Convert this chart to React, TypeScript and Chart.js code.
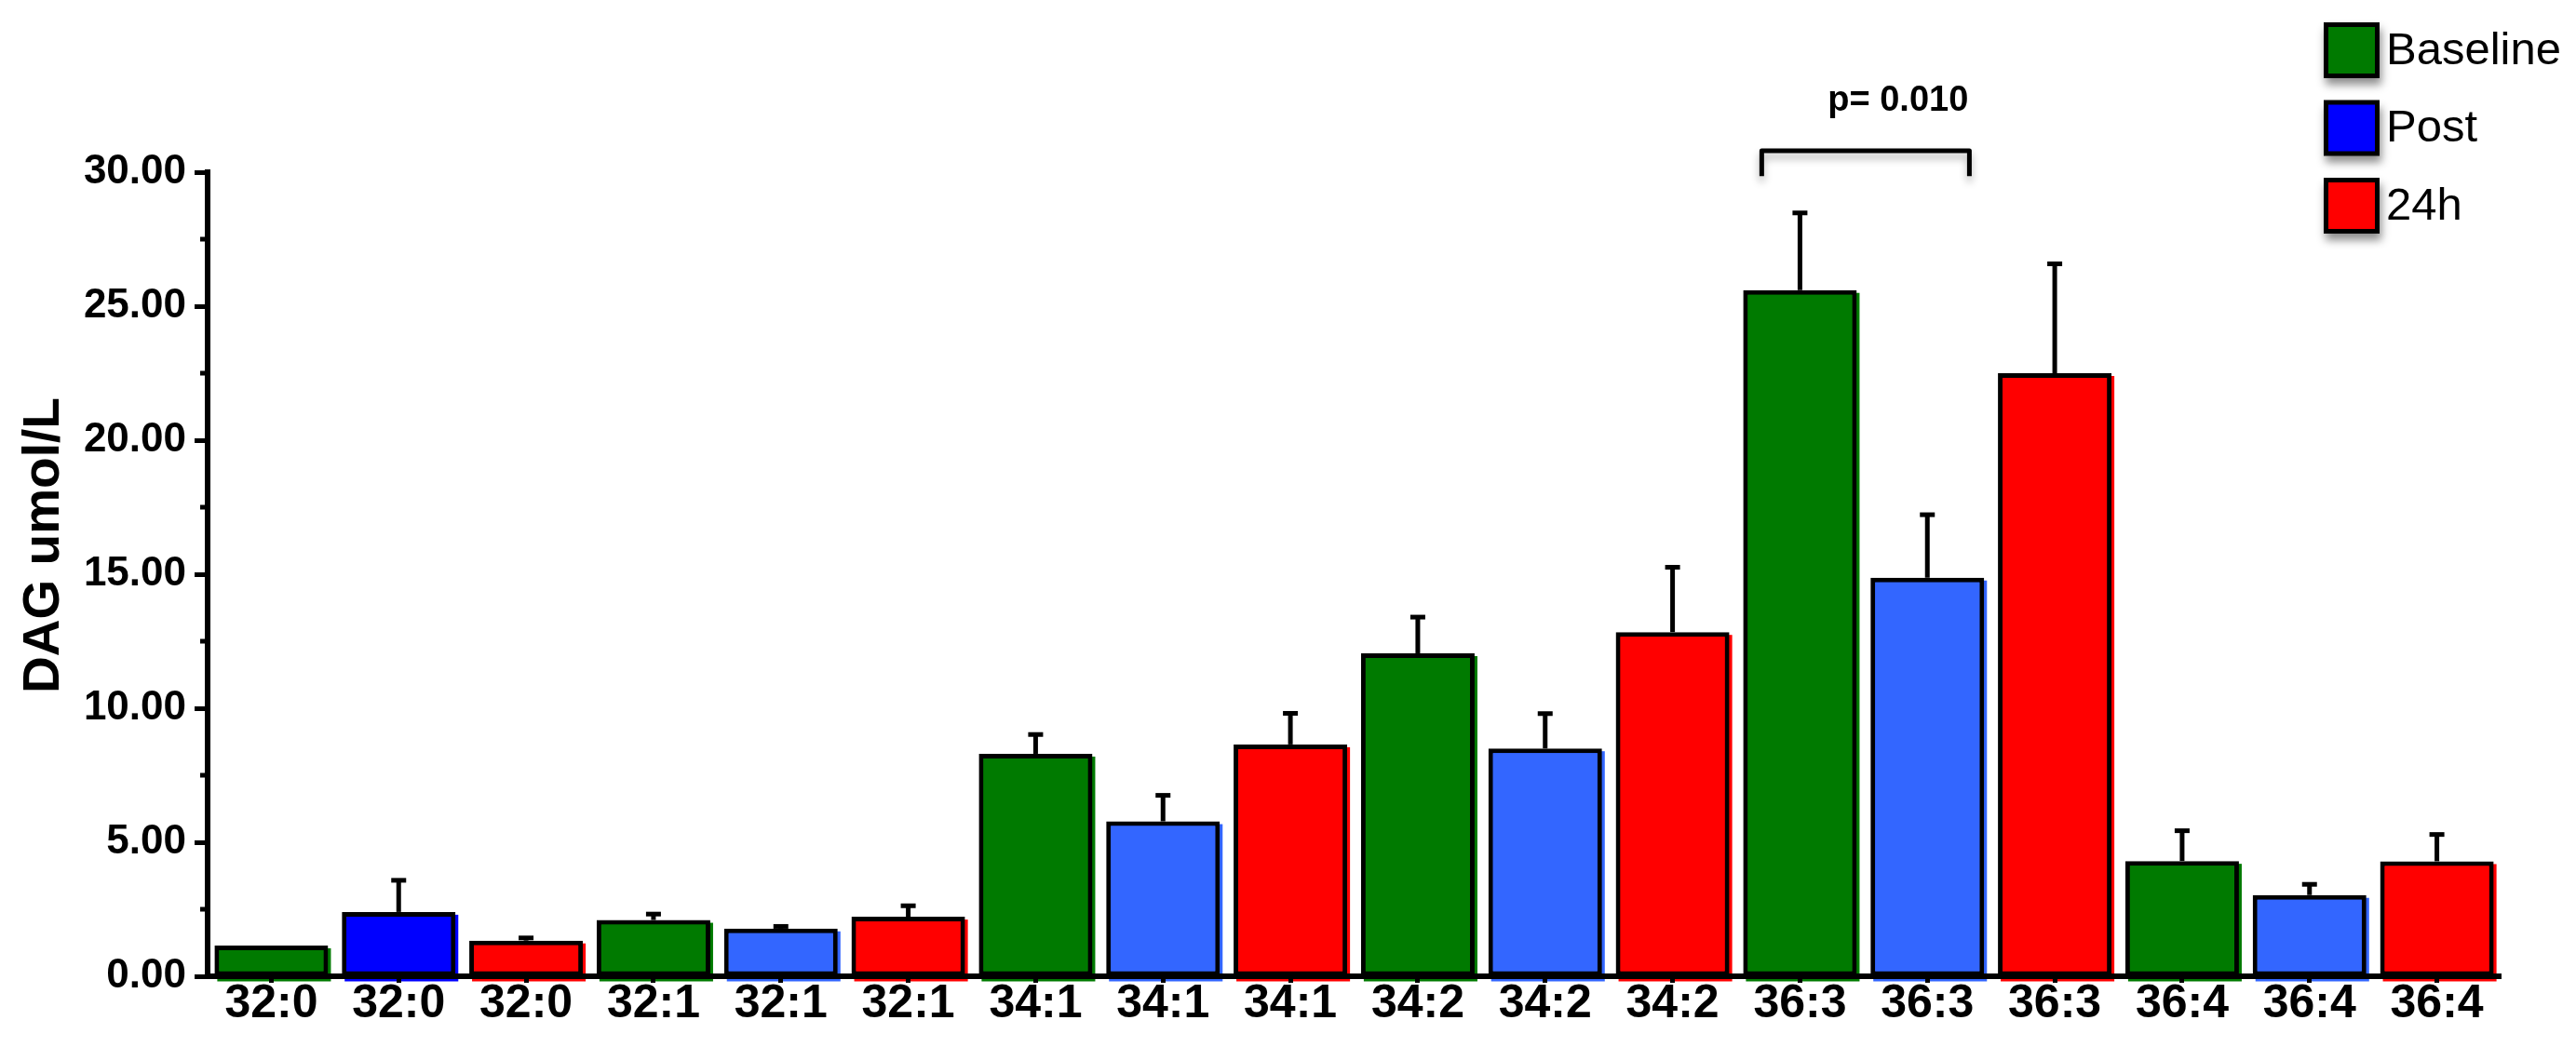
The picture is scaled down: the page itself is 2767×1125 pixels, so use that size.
import React, { useEffect, useRef } from 'react';
import { Chart, registerables } from 'chart.js';

Chart.register(...registerables);

// ---- data ----
const lipids = ['32:0', '32:1', '34:1', '34:2', '36:3', '36:4'];
const seriesNames = ['Baseline', 'Post', '24h'];
const baselineMean = [1.15, 2.1, 8.3, 12.05, 25.6, 4.3];
const baselineSem = [0, 0.22, 0.72, 1.35, 2.88, 1.13];
const postMean = [2.4, 1.78, 5.78, 8.5, 14.87, 3.03];
const postSem = [1.18, 0.08, 0.97, 1.3, 2.35, 0.4];
const h24Mean = [1.33, 2.22, 8.65, 12.84, 22.5, 4.29];
const h24Sem = [0.1, 0.41, 1.16, 2.42, 4.08, 1.0];
const yMin = 0;
const yMax = 30;
const yStep = 5;
const yTitle = 'DAG umol/L';
const pLabel = 'p= 0.010';
const pPair = [12, 13]; // category indices joined by the bracket

// ---- styles ----
const FONT = '"Liberation Sans", Arial, Helvetica, sans-serif';
const GREEN = '#007a00';
const BLUE = '#3366ff';
const PURE_BLUE = '#0000ff';
const RED = '#ff0000';
const seriesColors = [GREEN, PURE_BLUE, RED];

const means = [baselineMean, postMean, h24Mean];
const sems = [baselineSem, postSem, h24Sem];
const categories = lipids.flatMap((l) => [l, l, l]);

function seriesData(s: number, arr: number[]) {
  return categories.map((_, i) => (i % 3 === s ? arr[Math.floor(i / 3)] : null));
}

function barColor(s: number, index: number) {
  if (s === 0) return GREEN;
  if (s === 2) return RED;
  return Math.floor(index / 3) === 0 ? PURE_BLUE : BLUE;
}

const fillOffsetPlugin = {
  id: 'fillOffset',
  beforeDatasetsDraw(chart: any) {
    const ctx = chart.ctx;
    ctx.save();
    chart.data.datasets.forEach((ds: any, di: number) => {
      const meta = chart.getDatasetMeta(di);
      meta.data.forEach((el: any, i: number) => {
        if (ds.data[i] == null) return;
        const { x, y, base, width } = el.getProps(['x', 'y', 'base', 'width'], true);
        ctx.fillStyle = barColor(di, i);
        ctx.fillRect(x - width / 2 + 3, y + 3, width, base - y + 3);
      });
    });
    ctx.restore();
  },
};

const errorBarPlugin = {
  id: 'errorBars',
  afterDatasetsDraw(chart: any) {
    const ctx = chart.ctx;
    const ys = chart.scales.y;
    ctx.save();
    ctx.fillStyle = '#000';
    chart.data.datasets.forEach((ds: any, di: number) => {
      const meta = chart.getDatasetMeta(di);
      meta.data.forEach((el: any, i: number) => {
        const v = ds.data[i];
        const e = ds.errors[i];
        if (v == null || !e) return;
        const { x, y } = el.getProps(['x', 'y'], true);
        const top = ys.getPixelForValue(v + e);
        ctx.fillRect(x - 2.5, top, 5, y - top);
        ctx.fillRect(x - 8, top - 2.5, 16, 5);
      });
    });
    ctx.restore();
  },
};

const decorPlugin = {
  id: 'decor',
  afterDraw(chart: any) {
    const ctx = chart.ctx;
    const xs = chart.scales.x;
    const ys = chart.scales.y;
    const area = chart.chartArea;
    ctx.save();

    // minor ticks on y axis
    ctx.strokeStyle = '#000';
    ctx.lineWidth = 5;
    for (let v = yMin + yStep / 2; v < yMax; v += yStep) {
      const py = ys.getPixelForValue(v);
      ctx.beginPath();
      ctx.moveTo(area.left - 8, py);
      ctx.lineTo(area.left, py);
      ctx.stroke();
    }

    // y title
    ctx.save();
    ctx.translate(48, 586);
    ctx.rotate(-Math.PI / 2);
    ctx.fillStyle = '#000';
    ctx.font = `bold 55px ${FONT}`;
    ctx.textAlign = 'center';
    ctx.textBaseline = 'middle';
    ctx.fillText(yTitle, 0, 0);
    ctx.restore();

    // significance bracket
    const c0 = xs.getPixelForValue(pPair[0]);
    const c1 = xs.getPixelForValue(pPair[1]);
    const w = c1 - c0;
    const bx0 = c0 - 0.3 * w;
    const bx1 = c1 + 0.33 * w;
    const byTop = ys.getPixelForValue(30.8);
    const byBot = ys.getPixelForValue(29.85);
    ctx.save();
    ctx.shadowColor = 'rgba(0,0,0,0.3)';
    ctx.shadowBlur = 8;
    ctx.shadowOffsetY = 6;
    ctx.strokeStyle = '#000';
    ctx.lineWidth = 5;
    ctx.lineJoin = 'round';
    ctx.beginPath();
    ctx.moveTo(bx0, byBot);
    ctx.lineTo(bx0, byTop);
    ctx.lineTo(bx1, byTop);
    ctx.lineTo(bx1, byBot);
    ctx.stroke();
    ctx.restore();

    ctx.fillStyle = '#000';
    ctx.font = `bold 38px ${FONT}`;
    ctx.textAlign = 'center';
    ctx.textBaseline = 'alphabetic';
    ctx.fillText(pLabel, (c0 + c1) / 2 + 0.27 * w, ys.getPixelForValue(32.3));

    // legend
    const lx = 2496;
    const boxSize = 60;
    seriesNames.forEach((name, i) => {
      const ly = 24 + i * 83.5;
      ctx.save();
      ctx.shadowColor = 'rgba(0,0,0,0.45)';
      ctx.shadowBlur = 9;
      ctx.shadowOffsetX = 2;
      ctx.shadowOffsetY = 7;
      ctx.fillStyle = '#000';
      ctx.fillRect(lx, ly, boxSize, boxSize);
      ctx.restore();
      ctx.fillStyle = seriesColors[i];
      ctx.fillRect(lx + 5, ly + 5, boxSize - 10, boxSize - 10);
      ctx.fillStyle = '#000';
      ctx.font = `49px ${FONT}`;
      ctx.textAlign = 'left';
      ctx.textBaseline = 'middle';
      ctx.fillText(name, lx + boxSize + 7, ly + boxSize / 2 + 1);
    });

    ctx.restore();
  },
};

export default function App() {
  const canvasRef = useRef<HTMLCanvasElement | null>(null);

  useEffect(() => {
    if (!canvasRef.current) return;
    const datasets = seriesNames.map((name, s) => ({
      label: name,
      data: seriesData(s, means[s]),
      errors: seriesData(s, sems[s]),
      backgroundColor: (c: any) => barColor(s, c.dataIndex),
      borderColor: '#000',
      borderWidth: 5,
      borderSkipped: false,
      barPercentage: 0.892,
      categoryPercentage: 1,
    }));

    const chart = new Chart(canvasRef.current, {
      type: 'bar',
      data: { labels: categories, datasets: datasets as any },
      options: {
        animation: false,
        responsive: true,
        maintainAspectRatio: false,
        layout: { padding: { top: 185, right: 81, bottom: 0, left: 0 } },
        plugins: {
          legend: { display: false },
          tooltip: { enabled: false },
        },
        scales: {
          x: {
            stacked: true,
            grid: {
              display: true,
              drawOnChartArea: false,
              offset: false,
              tickLength: 7,
              tickWidth: 5,
              tickColor: '#000',
              z: 1,
            },
            border: { display: true, color: '#000', width: 6, z: 1 },
            ticks: {
              color: '#000',
              font: { family: FONT, weight: 'bold', size: 50, lineHeight: 1 },
              padding: -2,
              maxRotation: 0,
              autoSkip: false,
            },
            afterFit: (s: any) => {
              s.height = 76;
            },
          },
          y: {
            min: yMin,
            max: yMax,
            ticks: {
              stepSize: yStep,
              color: '#000',
              font: { family: FONT, weight: 'bold', size: 44 },
              padding: 9,
              callback: (v: any) => Number(v).toFixed(2),
            },
            grid: {
              display: true,
              drawOnChartArea: false,
              tickLength: 14,
              tickWidth: 5,
              tickColor: '#000',
              z: 1,
            },
            border: { display: true, color: '#000', width: 6, z: 1 },
            afterFit: (s: any) => {
              s.width = 223;
            },
          },
        },
      } as any,
      plugins: [fillOffsetPlugin, errorBarPlugin, decorPlugin],
    });
    return () => chart.destroy();
  }, []);

  return (
    <div
      style={{
        position: 'absolute',
        left: 0,
        top: 0,
        width: 2767,
        height: 1125,
        background: '#fff',
      }}
    >
      <canvas ref={canvasRef} />
    </div>
  );
}
